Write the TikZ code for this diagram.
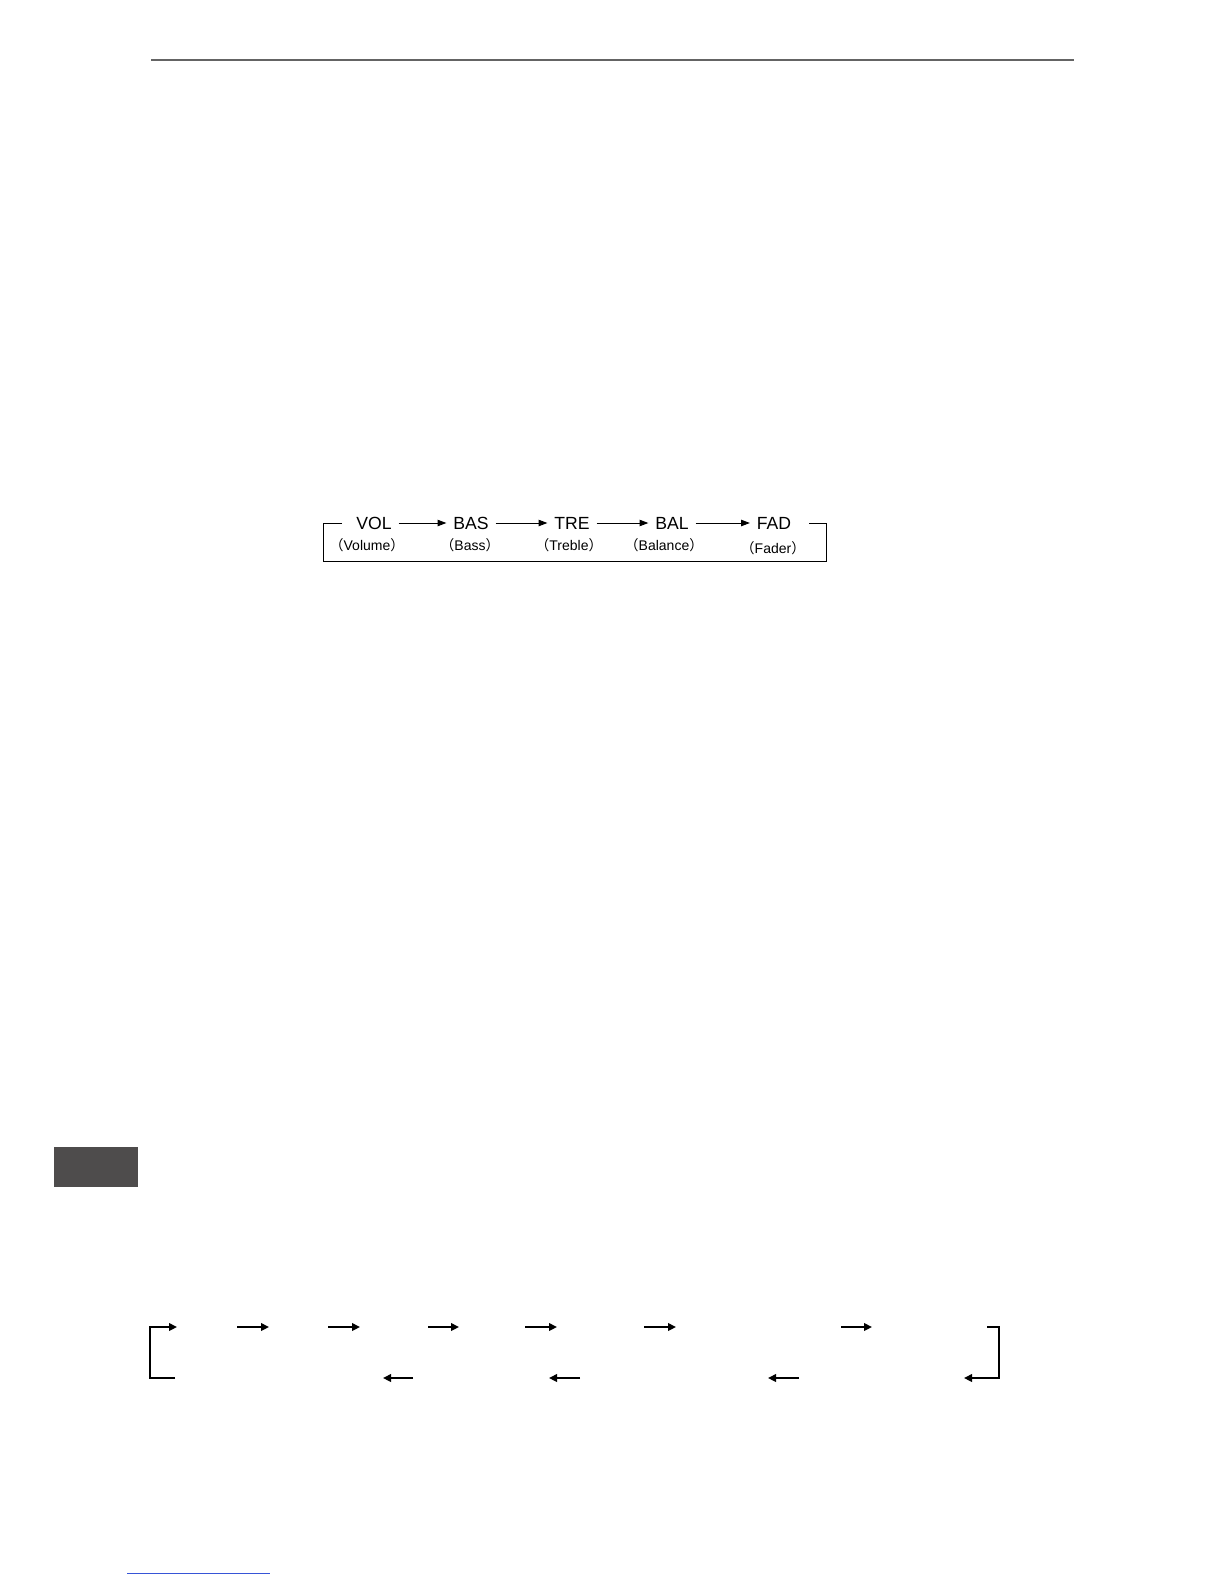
\documentclass[tikz,border=0pt]{standalone}
\usepackage{fontspec}
\setmainfont{Liberation Sans}
\newfontfamily\cjk{Noto Sans CJK SC}
\usetikzlibrary{arrows.meta}
\definecolor{rulegray}{RGB}{100,100,100}
\definecolor{tabgray}{RGB}{78,76,76}
\definecolor{linkblue}{RGB}{55,85,215}
\begin{document}
\begin{tikzpicture}[
        x=0.5pt, y=-0.5pt, % 1 unit = 1 pixel of the page
        mode/.style={font=\fontsize{8.8}{10}\selectfont, inner sep=3.3pt}, % Main items
        sub/.style={font=\fontsize{7}{8}\selectfont, inner sep=0pt}, % Names below
        step arrow/.style={draw, line width=0.5pt, -{Triangle[length=4.4pt, width=3.2pt]}},
        frame/.style={draw, line width=0.5pt},
        flow/.style={draw, line width=0.9pt, -{Triangle[length=4pt, width=3.8pt]}},
    ]
    \useasboundingbox (0,0) rectangle (1224,1584);

    % page decorations
    \draw[rulegray, line width=1pt] (151,60) -- (1074,60);
    \fill[tabgray] (54,1147) rectangle (138,1187);
    \draw[linkblue, line width=0.5pt] (127,1573) -- (270,1573);

    % audio menu loop
    \node[mode] (vol) at (374,523) {VOL};
    \node[mode] (bas) at (471,523) {BAS};
    \node[mode] (tre) at (572,523) {TRE};
    \node[mode] (bal) at (672,523) {BAL};
    \node[mode] (fad) at (774,523) {FAD};

    \node[sub] (volsub) at (367,545) {\cjk（\rmfamily Volume\cjk）};
    \node[sub] (bassub) at (470,545) {\cjk（\rmfamily Bass\cjk）};
    \node[sub] (tresub) at (569,545) {\cjk（\rmfamily Treble\cjk）};
    \node[sub] (balsub) at (664,545) {\cjk（\rmfamily Balance\cjk）};
    \node[sub] (fadsub) at (773,548) {\cjk（\rmfamily Fader\cjk）};

    \draw[step arrow] (vol) -- (bas);
    \draw[step arrow] (bas) -- (tre);
    \draw[step arrow] (tre) -- (bal);
    \draw[step arrow] (bal) -- (fad);

    \coordinate (loopL) at (342,523);
    \coordinate (loopR) at (809,523);
    \draw[frame] (loopL) -- (323,523) -- (323,561) -- (826,561) -- (826,523) -- (loopR);

    % second loop, upper row left to right
    \coordinate (startL) at (175,1378);
    \coordinate (firstH) at (177,1327);
    \draw[flow] (startL) -- (150,1378) -- (150,1327) -- (firstH);
    \foreach \i/\a/\b in {1/237/269, 2/328/360, 3/428/459, 4/525/557, 5/644/676, 6/841/872} {
        \coordinate (ut\i) at (\a,1327);
        \coordinate (uh\i) at (\b,1327);
        \draw[flow] (ut\i) -- (uh\i);
    }

    % right turn and lower row right to left
    \coordinate (turnT) at (987,1327);
    \coordinate (turnH) at (964,1378);
    \draw[flow] (turnT) -- (999,1327) -- (999,1378) -- (turnH);
    \foreach \i/\a/\b in {1/413/383, 2/580/549, 3/799/768} {
        \coordinate (lt\i) at (\a,1378);
        \coordinate (lh\i) at (\b,1378);
        \draw[flow] (lt\i) -- (lh\i);
    }
\end{tikzpicture}
\end{document}
